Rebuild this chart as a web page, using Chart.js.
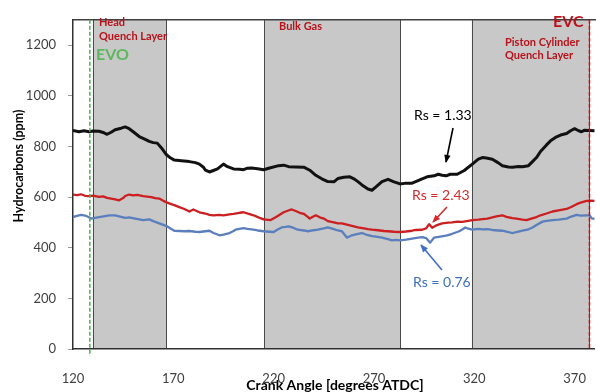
<!DOCTYPE html>
<html>
<head>
<meta charset="utf-8">
<script src="https://cdn.jsdelivr.net/npm/chart.js@4/dist/chart.umd.min.js"></script>
<style>
  html, body { margin: 0; padding: 0; background: #fff; overflow: hidden; }
  #wrap { width: 600px; height: 392px; }
</style>
</head>
<body>
<div id="wrap"><canvas id="c" width="600" height="392"></canvas></div>
<script>
// Crank-angle axis ticks and hydrocarbon axis ticks
const xTicks = [120, 170, 220, 270, 320, 370];
const yTicks = [0, 200, 400, 600, 800, 1000, 1200];

// Valve events and in-cylinder regions (degrees ATDC)
const evoAngle = 128.4;
const evcAngle = 377.4;
const regions = [[129.9, 166.5], [215.3, 283.1], [318.8, 377.4]];

// Rs = 1.33
const angleBlack = [120,123,125.5,128,130,133,135,137,139,141,144,146,148,150,153,156,158,160,162,164,166.5,168.5,170.5,174,178,181,183,185,186,188,190,192,195,197,200,203,205,207,209,212,215,218,222.5,225,227.5,231,235,238,241,244,247,250,252,255,258,260,262,264,267,269,271,274,277,280,283,286,289,292,294,296.5,300,302,304,306,308,311.5,315,319,322,324,326,329,332,334,337,339,342,344,347,349,351,353,356,358,361,363,366,368,370,372,373.5,375,377,380];
const hcBlack = [863,858,862,858,861,860,855,848,856,866,872,877,870,858,839,828,820,815,813,795,768,755,746,743,740,736,730,718,706,699,705,711,730,720,711,710,708,714,715,712,708,715,724,726,720,719,718,706,686,672,661,660,673,678,680,672,661,648,632,627,640,661,670,660,652,655,655,665,672,680,684,690,686,684,690,690,705,730,750,756,754,749,735,724,719,718,721,720,724,740,756,780,806,822,838,845,851,862,870,862,858,864,863,862];

// Rs = 2.43
const angleRed = [120,122,124,126,128,130,133,135,137,139,141,143,145,146,148,150,152,155,157,159,161,163,165,167,169,170.5,173,175.5,178,180,183,186,188,190,193,195,198,200,203,205,208,210,213,215,218.5,221,223,225,227,229,231,233,235,237,238,240,241,243,245,247,250,252,254,257,260,262,265,267,269,272,275,277,280,283,286,289,291,294,296,297.5,299,301,304,307,309,311.5,314,317,319,322,324,326.5,329,331,334,336,339,341,344,346,348,351,353,356,359,362,364,366,368,371,373,376,378,380];
const hcRed = [610,608,611,605,604,606,601,603,597,594,591,587,596,604,610,607,609,604,602,600,596,594,585,578,572,568,560,553,543,551,540,535,530,528,530,528,532,534,538,540,533,528,518,512,509,520,530,540,546,551,545,538,534,522,515,524,528,520,515,505,500,496,496,490,484,480,476,473,471,469,466,465,463,462,464,467,470,471,476,493,479,488,496,499,500,503,502,506,509,511,513,515,520,524,528,522,517,515,511,509,514,521,528,535,543,547,550,553,560,572,578,585,586,585];

// Rs = 0.76
const angleBlue = [120,122,124,126,128,129,131,133,136,138,141,143,146,148,151,153,155,158,160,163,165,167,169,170.5,173,175.5,178,181,183,186,188,190,193,195,198,200,201,203,205,207,210,212,215,218,220,222,224,226,227.5,230,232,235,237,240,242,245,247,250,252,254,255.5,256.5,258,259,262,264,266,269,271,274,277,279,281,283,286,289,292,294,296,298,300,303,306.5,309,312.5,314,315.5,317,319,322,324,326.5,329,332,334,337,339,341,344,346.5,349,351,354,356,359,362,364,366,368,371,373,376,377.5,378.5,380];
const hcBlue = [521,526,530,527,520,515,518,521,525,528,528,524,518,520,515,512,509,512,505,496,490,484,474,467,466,465,466,463,462,465,467,458,449,452,458,466,471,474,477,474,471,468,465,463,462,472,480,482,484,478,471,468,465,469,471,476,480,473,468,465,450,440,445,449,455,458,452,446,444,440,434,429,431,429,432,436,440,442,438,420,440,444,449,455,465,472,480,475,471,474,472,473,470,468,467,462,458,462,467,471,480,490,503,506,509,511,513,515,522,530,527,528,528,516,514];

const pts = (xs, ys) => xs.map((x, i) => ({ x: x, y: ys[i] }));

const FONT = 'Lato, "Open Sans", sans-serif';

// Shaded regions, drawn beneath axes and series
const bandsPlugin = {
  id: 'bands',
  beforeDraw(chart) {
    const { ctx, chartArea: a, scales: { x } } = chart;
    ctx.save();
    ctx.fillStyle = '#ffffff';
    ctx.fillRect(0, 0, chart.width, chart.height);
    regions.forEach(([s, e]) => {
      const x0 = x.getPixelForValue(s), x1 = x.getPixelForValue(e);
      ctx.fillStyle = '#c8c8c8';
      ctx.fillRect(x0, a.top, x1 - x0, a.bottom - a.top);
      ctx.strokeStyle = '#4a4a4a';
      ctx.lineWidth = 1;
      ctx.beginPath();
      ctx.moveTo(Math.round(x0) + 0.5, a.top);
      ctx.lineTo(Math.round(x0) + 0.5, a.bottom);
      ctx.moveTo(Math.round(x1) + 0.5, a.top);
      ctx.lineTo(Math.round(x1) + 0.5, a.bottom);
      ctx.stroke();
    });
    ctx.restore();
  }
};

function arrow(ctx, x0, y0, x1, y1, color) {
  ctx.save();
  ctx.strokeStyle = color;
  ctx.fillStyle = color;
  ctx.lineWidth = 1.6;
  ctx.beginPath();
  ctx.moveTo(x0, y0);
  ctx.lineTo(x1, y1);
  ctx.stroke();
  const ang = Math.atan2(y1 - y0, x1 - x0);
  const L = 7, W = 3.2;
  ctx.beginPath();
  ctx.moveTo(x1 + Math.cos(ang) * 1, y1 + Math.sin(ang) * 1);
  ctx.lineTo(x1 - L * Math.cos(ang) + W * Math.sin(ang), y1 - L * Math.sin(ang) - W * Math.cos(ang));
  ctx.lineTo(x1 - L * Math.cos(ang) - W * Math.sin(ang), y1 - L * Math.sin(ang) + W * Math.cos(ang));
  ctx.closePath();
  ctx.fill();
  ctx.restore();
}

// Valve-event lines, region names, series callouts and axis titles
const notesPlugin = {
  id: 'notes',
  afterDatasetsDraw(chart) {
    const { ctx, chartArea: a, scales: { x } } = chart;
    ctx.save();

    // top frame line
    ctx.strokeStyle = '#404040';
    ctx.lineWidth = 1.5;
    ctx.beginPath();
    ctx.moveTo(a.left, a.top);
    ctx.lineTo(chart.width, a.top);
    ctx.stroke();

    // EVO
    const xe = x.getPixelForValue(evoAngle);
    ctx.strokeStyle = '#4caf50';
    ctx.lineWidth = 1.5;
    ctx.setLineDash([4, 2]);
    ctx.beginPath();
    ctx.moveTo(xe, a.top);
    ctx.lineTo(xe, a.bottom + 7);
    ctx.stroke();
    // EVC
    const xc = x.getPixelForValue(evcAngle);
    ctx.strokeStyle = '#e00000';
    ctx.beginPath();
    ctx.moveTo(xc, a.top);
    ctx.lineTo(xc, a.bottom);
    ctx.stroke();
    ctx.setLineDash([]);

    ctx.textBaseline = 'middle';
    ctx.textAlign = 'left';
    const darkRed = '#b8121b';
    ctx.fillStyle = darkRed;
    ctx.font = 'bold 11px ' + FONT;
    ctx.fillText('Head', 99, 22);
    ctx.fillText('Quench Layer', 99, 36);
    ctx.fillText('Bulk Gas', 279, 26);
    ctx.fillText('Piston Cylinder', 505, 42);
    ctx.fillText('Quench Layer', 505, 55);
    ctx.font = 'bold 16px ' + FONT;
    ctx.fillText('EVC', 553, 22);
    ctx.fillStyle = '#5cb85c';
    ctx.fillText('EVO', 96, 55);

    ctx.font = '14px ' + FONT;
    ctx.fillStyle = '#000000';
    ctx.fillText('Rs = 1.33', 414, 115);
    ctx.fillStyle = '#d42a2a';
    ctx.fillText('Rs = 2.43', 412, 195);
    ctx.fillStyle = '#3f6fc0';
    ctx.fillText('Rs = 0.76', 413, 282);

    arrow(ctx, 453, 128, 446, 162, '#000000');
    arrow(ctx, 447, 207, 433, 222, '#d42a2a');
    arrow(ctx, 442, 270, 421, 245, '#3f6fc0');

    // axis titles
    ctx.fillStyle = '#000000';
    ctx.textAlign = 'center';
    ctx.font = 'bold 14px ' + FONT;
    ctx.fillText('Crank Angle [degrees ATDC]', 335, 385);
    ctx.translate(19, 166);
    ctx.rotate(-Math.PI / 2);
    ctx.font = 'bold 12.5px ' + FONT;
    ctx.fillText('Hydrocarbons (ppm)', 0, 0);
    ctx.restore();
  }
};

const lineStyle = { pointRadius: 0, tension: 0, fill: false, borderJoinStyle: 'round' };

new Chart(document.getElementById('c'), {
  type: 'line',
  data: {
    datasets: [
      { label: 'Rs = 1.33', data: pts(angleBlack, hcBlack), borderColor: '#111111', borderWidth: 3, ...lineStyle },
      { label: 'Rs = 2.43', data: pts(angleRed, hcRed), borderColor: '#cc1f22', borderWidth: 2.3, ...lineStyle },
      { label: 'Rs = 0.76', data: pts(angleBlue, hcBlue), borderColor: '#5b7ebc', borderWidth: 2.3, ...lineStyle }
    ]
  },
  options: {
    responsive: false,
    animation: false,
    devicePixelRatio: 1,
    layout: { padding: { top: 7, right: 2, left: 0, bottom: 0 } },
    plugins: { legend: { display: false }, tooltip: { enabled: false } },
    scales: {
      x: {
        type: 'linear',
        min: 120,
        max: 380,
        afterBuildTicks: s => { s.ticks = xTicks.map(v => ({ value: v })); },
        afterFit: s => { s.height = 43; },
        grid: { display: false },
        border: { display: true, color: '#303030', width: 1.5 },
        ticks: { padding: 14, color: '#404040', font: { family: FONT, size: 13 }, maxRotation: 0, callback: v => String(v) }
      },
      y: {
        min: 0,
        max: 1300,
        afterBuildTicks: s => { s.ticks = yTicks.map(v => ({ value: v })); },
        afterFit: s => { s.width = 73; },
        grid: { drawOnChartArea: false, drawTicks: true, tickLength: 5, color: '#9a9a9a' },
        border: { display: true, color: '#303030', width: 1.5 },
        ticks: { padding: 12, color: '#404040', font: { family: FONT, size: 13 }, callback: v => String(v) }
      }
    }
  },
  plugins: [bandsPlugin, notesPlugin]
});
</script>
</body>
</html>
